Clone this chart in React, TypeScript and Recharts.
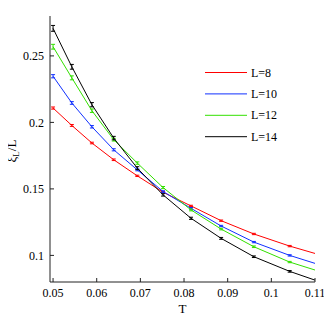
import { LineChart, Line, XAxis, YAxis, ErrorBar, Legend } from "recharts"

// temperatures of the data points (last one runs off the right edge)
const temps = [0.05, 0.0543, 0.0589, 0.0639, 0.0693, 0.0752, 0.0816, 0.0885, 0.096, 0.1042, 0.113]

// xi_L / L for each system size
const xi8 = [0.2108, 0.1977, 0.1845, 0.1719, 0.1598, 0.1475, 0.1372, 0.1261, 0.1161, 0.107, 0.0986]
const xi10 = [0.2347, 0.2146, 0.1967, 0.1794, 0.1643, 0.148, 0.1354, 0.1221, 0.11, 0.1, 0.0909]
const xi12 = [0.2569, 0.2335, 0.2088, 0.187, 0.1694, 0.151, 0.1342, 0.1198, 0.1065, 0.095, 0.0859]
const xi14 = [0.2707, 0.2418, 0.2133, 0.1882, 0.1656, 0.1455, 0.1279, 0.1128, 0.099, 0.088, 0.078]

// error bars (none on the point outside the axes)
const err8 = [0.0008, 0.0007, 0.0006, 0.0006, 0.0005, 0.0005, 0.0005, 0.0005, 0.0005, 0.0005, null]
const err10 = [0.0012, 0.001, 0.0009, 0.0008, 0.0007, 0.0006, 0.0006, 0.0005, 0.0005, 0.0005, null]
const err12 = [0.0018, 0.0015, 0.0013, 0.001, 0.0009, 0.0008, 0.0007, 0.0006, 0.0006, 0.0005, null]
const err14 = [0.0022, 0.0018, 0.0016, 0.0013, 0.0011, 0.0009, 0.0008, 0.0007, 0.0006, 0.0006, null]

const xTicks = [0.05, 0.06, 0.07, 0.08, 0.09, 0.1, 0.11]
const yTicks = [0.1, 0.15, 0.2, 0.25]

const data = temps.map((t, i) => ({
  T: t,
  l8: xi8[i],
  e8: err8[i],
  l10: xi10[i],
  e10: err10[i],
  l12: xi12[i],
  e12: err12[i],
  l14: xi14[i],
  e14: err14[i],
}))

const font = "'Liberation Serif', 'Times New Roman', serif"
const axisColor = "#222"
const tickStyle = { fill: "#000", fontSize: 12, fontFamily: font }

const series = [
  { key: "l8", err: "e8", name: "L=8", color: "#ff0000" },
  { key: "l10", err: "e10", name: "L=10", color: "#1030ff" },
  { key: "l12", err: "e12", name: "L=12", color: "#33e000" },
  { key: "l14", err: "e14", name: "L=14", color: "#000000" },
]

function YLabel(props: any) {
  const vb = props.viewBox || { x: 0, y: 0, width: 0, height: 0 }
  const x = 8
  const y = vb.y + vb.height / 2 + 2
  return (
    <text
      x={x}
      y={y}
      transform={`rotate(-90 ${x} ${y})`}
      textAnchor="middle"
      fontFamily={font}
      fontSize={13}
      fill="#000"
    >
      ξ
      <tspan dy={3} fontSize={9}>L</tspan>
      <tspan dy={-3}>/L</tspan>
    </text>
  )
}

function LegendBox() {
  return (
    <svg width={110} height={90}>
      {series.map((s, i) => {
        const y = 8.5 + i * 21.4
        return (
          <g key={s.key}>
            <line x1={0} x2={42} y1={y} y2={y} stroke={s.color} strokeWidth={1} />
            <text x={46} y={y + 4} fontFamily={font} fontSize={12} fill="#000">
              {s.name}
            </text>
          </g>
        )
      })}
    </svg>
  )
}

export default function App() {
  return (
    <LineChart width={324} height={324} data={data} margin={{ top: 8, right: 17, left: 0, bottom: 0 }}>
      <XAxis
        xAxisId="b"
        dataKey="T"
        type="number"
        domain={[0.0493, 0.11]}
        allowDataOverflow
        ticks={xTicks}
        tickFormatter={(v) => String(v)}
        height={50}
        stroke={axisColor}
        tickSize={-4}
        tickMargin={10}
        tick={tickStyle}
        label={{ value: "T", position: "insideBottom", offset: 19, fill: "#000", fontSize: 13, fontFamily: font }}
      />
      <XAxis
        xAxisId="t"
        dataKey="T"
        type="number"
        orientation="top"
        domain={[0.0493, 0.11]}
        allowDataOverflow
        ticks={xTicks}
        height={0}
        stroke={axisColor}
        tickSize={-4}
        tick={false}
      />
      <YAxis
        yAxisId="l"
        type="number"
        domain={[0.08, 0.28]}
        allowDataOverflow
        ticks={yTicks}
        tickFormatter={(v) => String(v)}
        width={42}
        stroke={axisColor}
        tickSize={-4}
        tickMargin={10}
        tick={tickStyle}
        label={<YLabel />}
      />
      <YAxis
        yAxisId="r"
        type="number"
        orientation="right"
        domain={[0.08, 0.28]}
        allowDataOverflow
        ticks={yTicks}
        width={0}
        stroke={axisColor}
        tickSize={-4}
        tick={false}
      />
      <Legend
        layout="vertical"
        verticalAlign="middle"
        align="center"
        wrapperStyle={{ left: 197, top: 56, width: 110 }}
        content={<LegendBox />}
      />
      {series.map((s) => (
        <Line
          key={s.key}
          xAxisId="b"
          yAxisId="l"
          dataKey={s.key}
          name={s.name}
          stroke={s.color}
          strokeWidth={1}
          dot={false}
          activeDot={false}
          isAnimationActive={false}
        >
          <ErrorBar dataKey={s.err} width={2} stroke={s.color} strokeWidth={1} direction="y" />
        </Line>
      ))}
    </LineChart>
  )
}
